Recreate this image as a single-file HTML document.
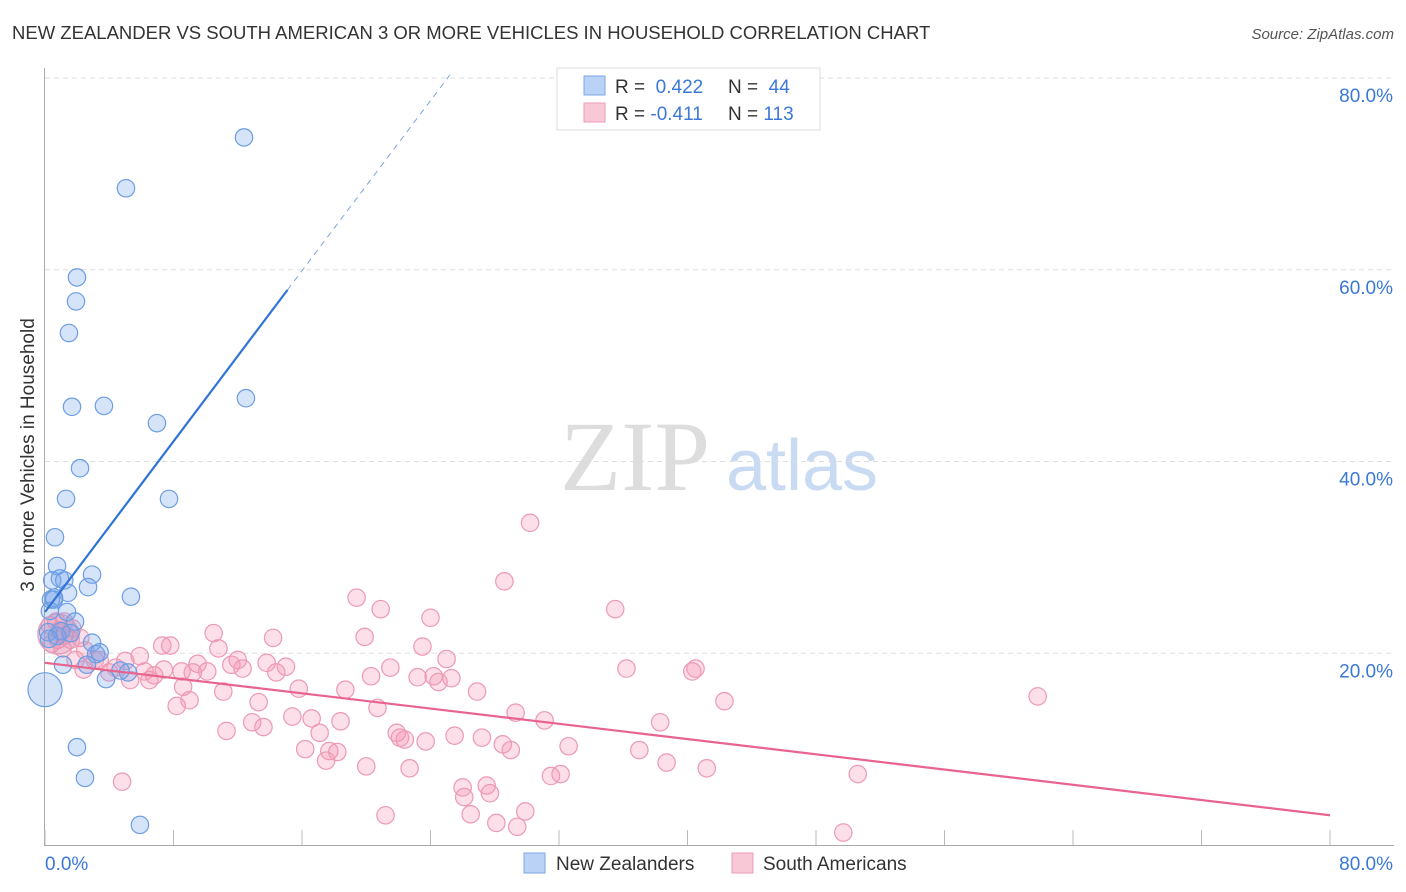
<!DOCTYPE html>
<html><head><meta charset="utf-8"><style>
body{margin:0;background:#fff;font-family:"Liberation Sans",sans-serif;}
svg{display:block}
</style></head><body>
<svg id="c" width="1406" height="892">
<text x="12" y="39" font-size="18.5" fill="#333">NEW ZEALANDER VS SOUTH AMERICAN 3 OR MORE VEHICLES IN HOUSEHOLD CORRELATION CHART</text>
<text x="1394" y="39" font-size="15" fill="#555" font-style="italic" text-anchor="end">Source: ZipAtlas.com</text>
<text transform="translate(34,455) rotate(-90)" font-size="19" fill="#333" text-anchor="middle">3 or more Vehicles in Household</text>
<g><text x="635" y="490" font-size="100" font-family="Liberation Serif,serif" fill="#ddd" text-anchor="middle">ZIP</text><text x="802" y="490" font-size="72" fill="#c9daf3" text-anchor="middle">atlas</text></g>
<g id="grid"></g><g id="marks"></g><g id="lines"></g>
<g>
<rect x="557" y="68" width="263" height="62" fill="#fff" stroke="#ddd"/>
<rect x="584" y="76" width="21" height="19" fill="#b9d2f5" stroke="#7ea7e6"/>
<text x="615" y="93" font-size="19" fill="#333">R = <tspan fill="#3b78d8">&#160;0.422</tspan><tspan x="728">N = </tspan><tspan fill="#3b78d8">&#160;44</tspan></text>
<rect x="584" y="103" width="21" height="19" fill="#f9c8d7" stroke="#ee9bb5"/>
<text x="615" y="120" font-size="19" fill="#333">R = <tspan fill="#3b78d8">-0.411</tspan><tspan x="728">N = </tspan><tspan fill="#3b78d8">113</tspan></text>
</g>
<g>
<rect x="524" y="853" width="21" height="20" fill="#b9d2f5" stroke="#7ea7e6"/>
<text x="556" y="870" font-size="19" fill="#333">New Zealanders</text>
<rect x="732" y="853" width="21" height="20" fill="#f9c8d7" stroke="#ee9bb5"/>
<text x="763" y="870" font-size="19" fill="#333">South Americans</text>
</g>
</svg>
<script>
const xTicks=[0,80];
const yTicks=[20,40,60,80];
const nzX=[12.39,5.04,1.99,1.93,1.49,1.68,3.67,6.97,12.51,2.18,1.31,7.72,0.62,0.75,0.93,2.93,2.68,5.35,0.56,1.43,0.37,1.37,1.87,0.19,0.75,2.93,3.18,1.12,2.61,3.8,5.17,1.99,2.49,5.91,0.3,1.0,1.6,0.45,1.2,0.25,3.4,0.56,4.7];
const nzY=[73.8,68.5,59.2,56.7,53.4,45.7,45.8,44.0,46.6,39.3,36.1,36.1,32.1,29.1,27.8,28.2,26.9,25.9,25.8,26.3,25.6,24.3,23.3,22.2,21.8,21.1,19.9,18.8,18.8,17.3,18.0,10.2,7.0,2.1,24.4,22.3,22.1,27.6,27.6,21.5,20.1,25.6,18.2];
const nzBigX=[0]; const nzBigY=[16.2];
const saX=[30.2,28.6,19.4,20.9,35.5,24.0,19.9,14.2,10.5,7.8,7.3,10.8,23.5,25.0,12.0,9.5,10.1,13.8,15.0,11.6,14.4,5.9,5.0,4.4,6.2,6.8,7.4,8.5,9.2,12.3,21.5,20.3,23.2,24.2,24.5,25.3,36.2,40.5,40.3,15.8,8.6,11.1,18.7,26.9,42.3,61.8,8.2,9.0,13.3,20.7,15.4,16.6,18.4,29.3,31.1,38.3,12.9,13.6,11.3,17.1,21.9,22.4,25.5,27.2,28.5,29.0,32.6,37.0,16.2,17.7,18.2,22.1,23.7,17.5,20.0,22.7,38.7,41.2,50.6,31.5,32.1,4.8,26.0,27.5,26.1,27.7,29.9,26.5,21.2,28.1,29.4,49.7,0.7,0.9,1.2,1.6,0.4,2.2,2.5,1.9,3.4,4.0,5.3,6.5,2.4,3.1,1.1,0.3,0.8,1.7,1.2];
const saY=[33.6,27.5,25.8,24.6,24.6,23.7,21.7,21.6,22.1,20.8,20.8,20.5,20.7,19.4,19.3,18.9,18.1,19.0,18.6,18.8,18.0,19.7,19.2,18.5,18.1,17.7,18.3,18.1,18.0,18.4,18.5,17.6,17.5,17.6,17.0,17.4,18.4,18.4,18.1,16.3,16.5,16.0,16.2,16.0,15.0,15.5,14.5,15.1,14.9,14.3,13.4,13.2,12.9,13.8,13.0,12.8,12.8,12.3,11.9,11.7,11.7,11.0,11.4,11.2,10.5,9.9,10.3,9.9,10.0,9.8,9.7,11.2,10.8,8.8,8.2,8.0,8.6,8.0,7.4,7.2,7.4,6.6,6.0,6.2,5.0,5.4,3.5,3.2,3.1,2.3,1.9,1.3,23.3,22.4,21.8,21.4,21.0,21.6,20.3,19.3,19.3,18.0,17.2,17.2,18.3,19.3,20.5,22.9,21.4,22.6,23.3];
const saBigX=[0.8]; const saBigY=[22.0];
const nzTrend=[0,24.3,15.1,57.9,25.2,80.3];
const saTrend=[0,19.0,80,3.1];
const X=v=>45+v*1285/80, Y=v=>845-v*767/80;
const NS="http://www.w3.org/2000/svg";
function mk(t,a,p){const e=document.createElementNS(NS,t);for(const k in a)e.setAttribute(k,a[k]);p.appendChild(e);return e;}
const g=document.getElementById('grid');
for(const t of yTicks){
 const l=mk('line',{x1:45,x2:1394,y1:Y(t),y2:Y(t),stroke:'#ddd','stroke-dasharray':'5,4'},g);
 
 
 const tx=mk('text',{x:1393,y:Y(t)+24,'font-size':19,fill:'#3b78d8','text-anchor':'end'},g);tx.textContent=t.toFixed(1)+'%';
 
 
}
mk('line',{x1:44.5,x2:44.5,y1:68,y2:845,stroke:'#aaa'},g);
mk('line',{x1:44,x2:1394,y1:845.5,y2:845.5,stroke:'#aaa'},g);
for(let i=0;i<=10;i++){mk('line',{x1:X(i*8),x2:X(i*8),y1:830,y2:845,stroke:'#bbb'},g);}
xTicks.forEach((t,i)=>{const tx=mk('text',{x:i?1393:45,y:870,'font-size':19,fill:'#3b78d8','text-anchor':i?'end':'start'},g);tx.textContent=t.toFixed(1)+'%';
 
 });
const m=document.getElementById('marks');
function dots(xs,ys,r,fill,stroke,name){xs.forEach((x,i)=>{const c=mk('circle',{cx:X(x),cy:Y(ys[i]),r:r,fill:fill,stroke:stroke,'stroke-width':1.2},m);
 
 });}
dots(saX,saY,8.7,'rgba(244,150,180,0.3)','#ec9ab4','south-american-point');
dots(saBigX,saBigY,20,'rgba(220,140,180,0.3)','#e39ab8','south-american-point');
dots(nzX,nzY,8.7,'rgba(120,165,235,0.3)','#6c9de3','new-zealander-point');
dots(nzBigX,nzBigY,17,'rgba(120,165,235,0.3)','#6c9de3','new-zealander-point');
const L=document.getElementById('lines');
const b1=mk('line',{x1:X(nzTrend[0]),y1:Y(nzTrend[1]),x2:X(nzTrend[2]),y2:Y(nzTrend[3]),stroke:'#2f74d6','stroke-width':2.2},L);


const b2=mk('line',{x1:X(nzTrend[2]),y1:Y(nzTrend[3]),x2:X(nzTrend[4]),y2:Y(nzTrend[5]),stroke:'#7aa4e4','stroke-width':1,'stroke-dasharray':'6,5'},L);


const p1=mk('line',{x1:X(saTrend[0]),y1:Y(saTrend[1]),x2:X(saTrend[2]),y2:Y(saTrend[3]),stroke:'#e8648f','stroke-width':2.2},L);


</script>
</body></html>
